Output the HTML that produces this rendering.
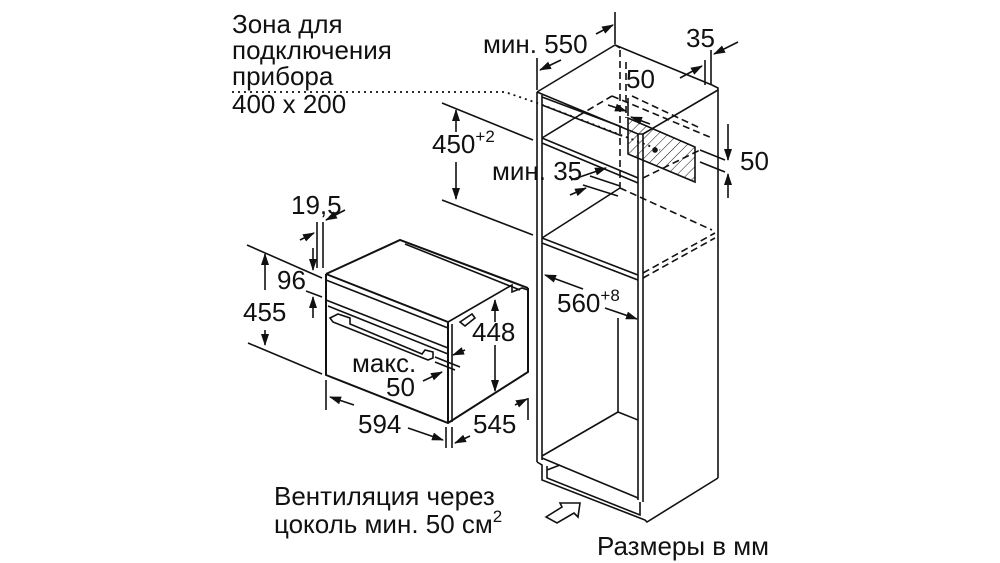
<!DOCTYPE html>
<html><head><meta charset="utf-8"><style>
html,body{margin:0;padding:0;background:#fff;}
svg{display:block;}
text{font-family:"Liberation Sans",sans-serif;font-size:26px;fill:#111;}
.s{font-size:17px;}
</style></head><body>
<svg width="1000" height="563" viewBox="0 0 1000 563" xmlns="http://www.w3.org/2000/svg">
<defs>
<marker id="a" markerWidth="12" markerHeight="8" refX="11" refY="4" orient="auto" markerUnits="userSpaceOnUse"><path d="M0,0 L12,4 L0,8 Z" fill="#111"/></marker>
<pattern id="h" width="7" height="7" patternUnits="userSpaceOnUse" patternTransform="rotate(45)"><line x1="0" y1="0" x2="0" y2="7" stroke="#111" stroke-width="1"/></pattern>
</defs>
<g stroke="#111" stroke-width="1.6" fill="none">
<path d="M232,92 L505,92 L540,104 L660,150" stroke-dasharray="2,4" stroke-width="1.8"/>
<line x1="442" y1="103" x2="533" y2="140"/>
<line x1="442" y1="200" x2="533" y2="235"/>
<line x1="456" y1="132" x2="456" y2="110" marker-end="url(#a)"/>
<line x1="456" y1="162" x2="456" y2="199" marker-end="url(#a)"/>

<line x1="537" y1="92" x2="537" y2="462"/>
<line x1="542" y1="95" x2="542" y2="460"/>
<line x1="638" y1="134" x2="638" y2="500"/>
<line x1="643" y1="134" x2="643" y2="502"/>
<path d="M537,92 L615,45 L620,48"/>
<path d="M537,92 L638,134 L643,134"/>
<path d="M615,45 L712,85 L718,88 L718,478"/>
<path d="M643,134 L718,90"/>
<line x1="542" y1="97" x2="622" y2="127"/>
<line x1="542" y1="105" x2="622" y2="136"/>
<line x1="542" y1="138" x2="638" y2="178"/>
<line x1="542" y1="143" x2="638" y2="183"/>
<line x1="542" y1="138" x2="578" y2="116"/>
<line x1="578" y1="116" x2="612" y2="96" stroke-dasharray="7,4"/>
<line x1="612" y1="96" x2="712" y2="138" stroke-dasharray="7,4"/>
<line x1="620" y1="50" x2="620" y2="188" stroke-dasharray="7,4"/>
<line x1="626" y1="62" x2="626" y2="118" stroke-dasharray="7,4"/>
<line x1="542" y1="238" x2="638" y2="275"/>
<line x1="542" y1="243" x2="638" y2="280"/>
<line x1="542" y1="238" x2="620" y2="188"/>
<line x1="620" y1="188" x2="712" y2="230" stroke-dasharray="7,4"/>
<line x1="643" y1="273" x2="715" y2="233" stroke-dasharray="7,4"/>
<line x1="643" y1="278" x2="715" y2="238" stroke-dasharray="7,4"/>
<line x1="643" y1="178" x2="700" y2="150" stroke-dasharray="7,4"/>
<line x1="590" y1="176" x2="620" y2="186"/>
<line x1="583" y1="185" x2="618" y2="196"/>
<line x1="571" y1="180" x2="606" y2="168" marker-end="url(#a)"/>
<line x1="570" y1="195" x2="586" y2="188" marker-end="url(#a)"/>
<line x1="618" y1="318" x2="618" y2="412"/>
<line x1="618" y1="412" x2="542" y2="456"/>
<line x1="618" y1="412" x2="638" y2="420"/>
<line x1="542" y1="458" x2="638" y2="498"/>
<path d="M537,462 L542,465 L542,480 L645,520 L647,522 L718,478"/>
<path d="M547,466 L547,478 L640,515 L640,502"/>
<line x1="547" y1="470" x2="560" y2="465"/>
<path d="M546,517 L562,507 L560,503 L580,503 L578,517 L574,513 L557,523 Z"/>
<line x1="583" y1="289" x2="545" y2="275" marker-end="url(#a)"/>
<line x1="605" y1="308" x2="637" y2="319" marker-end="url(#a)"/>
<line x1="537" y1="58" x2="537" y2="90"/>
<line x1="615" y1="12" x2="615" y2="44"/>
<line x1="561" y1="60" x2="540" y2="70" marker-end="url(#a)"/>
<line x1="596" y1="34" x2="613" y2="25" marker-end="url(#a)"/>
<line x1="705" y1="60" x2="705" y2="85"/>
<line x1="711" y1="50" x2="711" y2="85"/>
<line x1="680" y1="78" x2="702" y2="66" marker-end="url(#a)"/>
<line x1="738" y1="42" x2="714" y2="54" marker-end="url(#a)"/>
<path d="M628,118 L695,147 L695,182 L628,154 Z" fill="url(#h)"/>
<circle cx="655" cy="150" r="2" fill="#111"/>
<line x1="608" y1="105" x2="626" y2="111" marker-end="url(#a)"/>
<line x1="650" y1="124" x2="631" y2="117" marker-end="url(#a)"/>
<line x1="628" y1="98" x2="628" y2="116"/>
<line x1="632" y1="96" x2="700" y2="128" stroke-dasharray="7,4"/>
<line x1="700" y1="150" x2="725" y2="160"/>
<line x1="700" y1="162" x2="725" y2="172"/>
<line x1="728" y1="124" x2="728" y2="160" marker-end="url(#a)"/>
<line x1="728" y1="198" x2="728" y2="174" marker-end="url(#a)"/>

<g stroke-width="2">
<path d="M326,274 L326,375 L448,423 L528,372 L528,288"/>
<path d="M326,274 L400,240 L528,288"/>
<path d="M326,274 L448,322 L448,423"/>
</g>
<line x1="452" y1="324" x2="452" y2="422"/>
<line x1="326" y1="280" x2="448" y2="328"/>
<line x1="405" y1="244" x2="520" y2="290"/>
<line x1="326" y1="300" x2="448" y2="348"/>
<line x1="328" y1="306" x2="448" y2="354"/>
<path d="M448,322 L512,285 L512,292 L522,288 L528,290"/>
<path d="M330,318 L338,314 L350,318 L350,324 L422,354 L425,350 L433,352 L433,358 L428,360 L333,322 Z"/>
<path d="M460,322 L472,314 L475,318 L465,326 Z"/>
<line x1="317" y1="222" x2="317" y2="268"/>
<line x1="323" y1="222" x2="323" y2="268"/>
<line x1="300" y1="240" x2="314" y2="233" marker-end="url(#a)"/>
<line x1="345" y1="210" x2="326" y2="220" marker-end="url(#a)"/>
<line x1="247" y1="245" x2="322" y2="278"/>
<line x1="248" y1="343" x2="322" y2="374"/>
<line x1="306" y1="291" x2="322" y2="297"/>
<line x1="313" y1="248" x2="313" y2="270" marker-end="url(#a)"/>
<line x1="313" y1="318" x2="313" y2="297" marker-end="url(#a)"/>
<line x1="265" y1="290" x2="265" y2="254" marker-end="url(#a)"/>
<line x1="265" y1="330" x2="265" y2="345" marker-end="url(#a)"/>
<line x1="495" y1="322" x2="495" y2="300" marker-end="url(#a)"/>
<line x1="495" y1="345" x2="495" y2="391" marker-end="url(#a)"/>
<line x1="435" y1="357" x2="460" y2="367"/>
<line x1="435" y1="362" x2="455" y2="370"/>
<line x1="465" y1="350" x2="453" y2="355" marker-end="url(#a)"/>
<line x1="423" y1="381" x2="442" y2="372" marker-end="url(#a)"/>
<line x1="326" y1="380" x2="326" y2="410"/>
<line x1="446" y1="427" x2="446" y2="448"/>
<line x1="452" y1="427" x2="452" y2="448"/>
<line x1="528" y1="398" x2="528" y2="420"/>
<line x1="354" y1="405" x2="330" y2="397" marker-end="url(#a)"/>
<line x1="408" y1="428" x2="443" y2="440" marker-end="url(#a)"/>
<line x1="470" y1="436" x2="455" y2="443" marker-end="url(#a)"/>
<line x1="515" y1="405" x2="527" y2="399" marker-end="url(#a)"/>
</g>
<text x="232" y="33">Зона для</text>
<text x="232" y="59">подключения</text>
<text x="232" y="85">прибора</text>
<text x="232" y="113">400 x 200</text>
<text x="483" y="53">мин. 550</text>
<text x="686" y="47">35</text>
<text x="626" y="88">50</text>
<text x="740" y="170">50</text>
<text x="432" y="153">450<tspan class="s" dy="-11">+2</tspan></text>
<text x="492" y="180">мин. 35</text>
<text x="557" y="312">560<tspan class="s" dy="-11">+8</tspan></text>
<text x="291" y="214">19,5</text>
<text x="277" y="289">96</text>
<text x="243" y="321">455</text>
<text x="472" y="341">448</text>
<text x="352" y="372">макс.</text>
<text x="386" y="396">50</text>
<text x="358" y="433">594</text>
<text x="473" y="433">545</text>
<text x="274" y="505">Вентиляция через</text>
<text x="274" y="533">цоколь мин. 50 см<tspan class="s" dy="-11">2</tspan></text>
<text x="597" y="555">Размеры в мм</text>
</svg>
</body></html>
